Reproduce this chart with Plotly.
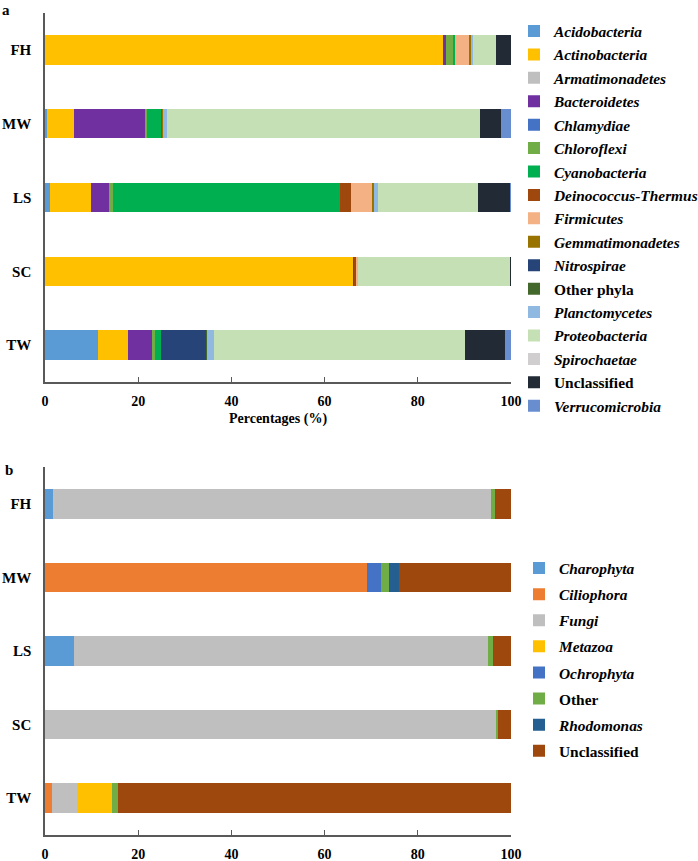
import plotly.graph_objects as go

sites = ["FH", "MW", "LS", "SC", "TW"]

# Panel a: bacterial phyla (%)
phyla = ["Acidobacteria", "Actinobacteria", "Armatimonadetes", "Bacteroidetes",
         "Chlamydiae", "Chloroflexi", "Cyanobacteria", "Deinococcus-Thermus",
         "Firmicutes", "Gemmatimonadetes", "Nitrospirae", "Other phyla",
         "Planctomycetes", "Proteobacteria", "Spirochaetae", "Unclassified",
         "Verrucomicrobia"]
acidobacteria = [0.1, 0.4, 1.1, 0.0, 11.3]
actinobacteria = [85.3, 5.8, 8.7, 66.0, 6.45]
armatimonadetes = [0.0, 0.0, 0.0, 0.0, 0.0]
bacteroidetes = [0.7, 15.4, 4.0, 0.45, 5.3]
chlamydiae = [0.0, 0.0, 0.0, 0.0, 0.0]
chloroflexi = [1.6, 0.2, 0.85, 0.0, 0.5]
cyanobacteria = [0.2, 3.1, 48.7, 0.0, 1.4]
deinococcus = [0.0, 0.3, 2.4, 0.3, 0.0]
firmicutes = [3.2, 0.0, 4.5, 0.4, 0.0]
gemmatimonadetes = [0.35, 0.2, 0.35, 0.0, 0.0]
nitrospirae = [0.0, 0.0, 0.0, 0.0, 9.6]
other_phyla = [0.0, 0.0, 0.0, 0.0, 0.2]
planctomycetes = [0.35, 0.7, 0.8, 0.0, 1.6]
proteobacteria = [5.0, 67.3, 21.5, 32.65, 53.8]
spirochaetae = [0.0, 0.0, 0.0, 0.0, 0.0]
unclassified_a = [3.15, 4.5, 7.0, 0.2, 8.5]
verrucomicrobia = [0.0, 2.1, 0.1, 0.0, 1.3]
values_a = [acidobacteria, actinobacteria, armatimonadetes, bacteroidetes,
            chlamydiae, chloroflexi, cyanobacteria, deinococcus, firmicutes,
            gemmatimonadetes, nitrospirae, other_phyla, planctomycetes,
            proteobacteria, spirochaetae, unclassified_a, verrucomicrobia]
italic_a = [True] * 11 + [False] + [True] * 3 + [False] + [True]
colors_a = ["#5B9BD5", "#FFC000", "#BFBFBF", "#7030A0", "#4472C4", "#70AD47",
            "#00B050", "#9E480E", "#F4B183", "#997300", "#264478", "#43682B",
            "#8FB9E1", "#C5E0B4", "#D0CECE", "#222A35", "#698ED0"]

# Panel b: eukaryotic groups (%)
groups = ["Charophyta", "Ciliophora", "Fungi", "Metazoa", "Ochrophyta",
          "Other", "Rhodomonas", "Unclassified"]
charophyta = [1.8, 0.0, 6.3, 0.0, 0.0]
ciliophora = [0.0, 69.2, 0.0, 0.0, 1.4]
fungi = [93.9, 0.0, 88.7, 96.8, 5.5]
metazoa = [0.0, 0.0, 0.0, 0.0, 7.4]
ochrophyta = [0.0, 2.9, 0.0, 0.0, 0.0]
other = [0.9, 1.8, 1.2, 0.4, 1.4]
rhodomonas = [0.0, 2.1, 0.0, 0.0, 0.0]
unclassified_b = [3.4, 24.0, 3.8, 2.8, 84.3]
values_b = [charophyta, ciliophora, fungi, metazoa, ochrophyta, other,
            rhodomonas, unclassified_b]
italic_b = [True, True, True, True, True, False, True, False]
colors_b = ["#5B9BD5", "#ED7D31", "#BFBFBF", "#FFC000", "#4472C4", "#70AD47",
            "#255E91", "#9E480E"]

xticks = [0, 20, 40, 60, 80, 100]

FONT = "Liberation Serif"
fig = go.Figure()

for name, vals, it, col in zip(phyla, values_a, italic_a, colors_a):
    fig.add_trace(go.Bar(
        y=sites, x=vals, orientation="h", name=(f"<i>{name}</i>" if it else name),
        marker=dict(color=col, line=dict(width=0)), xaxis="x", yaxis="y",
        legend="legend", legendgroup="a_" + name))

for name, vals, it, col in zip(groups, values_b, italic_b, colors_b):
    fig.add_trace(go.Bar(
        y=sites, x=vals, orientation="h", name=(f"<i>{name}</i>" if it else name),
        marker=dict(color=col, line=dict(width=0)), xaxis="x2", yaxis="y2",
        legend="legend2", legendgroup="b_" + name))

W, H = 698, 861
x0, x1 = 45 / W, 511 / W
axis_common = dict(showgrid=False, zeroline=False, showline=True,
                   linecolor="#595959", linewidth=1.5, automargin=False)
xcommon = dict(range=[0, 100], tickvals=xticks, ticks="inside", ticklen=5,
               tickcolor="#595959", tickwidth=1, ticklabelstandoff=5,
               tickfont=dict(family=FONT, size=14, color="black", weight="bold"),
               domain=[x0, x1], **axis_common)
ycommon = dict(autorange="reversed", ticks="", ticklabelstandoff=9,
               tickfont=dict(family=FONT, size=15, color="black", weight="bold"),
               **axis_common)

LEGSIZE = 15.4
legfont = dict(family=FONT, size=LEGSIZE, color="black", weight="bold")

fig.update_layout(
    width=W, height=H, autosize=False,
    margin=dict(l=0, r=0, t=0, b=0, autoexpand=False),
    paper_bgcolor="white", plot_bgcolor="white",
    barmode="stack", bargap=0.6, showlegend=True,
    xaxis=dict(anchor="y", title=dict(text="Percentages (%)", standoff=6,
               font=dict(family=FONT, size=14, color="black", weight="bold")),
               **xcommon),
    yaxis=dict(anchor="x", domain=[1 - 382 / H, 1 - 13 / H], **ycommon),
    xaxis2=dict(anchor="y2", **xcommon),
    yaxis2=dict(anchor="x2", domain=[1 - 835 / H, 1 - 467 / H], **ycommon),
    legend=dict(x=(554 - 40) / W, xanchor="left", y=1 - 14.5 / H, yanchor="top",
                traceorder="grouped", font=legfont, bgcolor="rgba(0,0,0,0)",
                tracegroupgap=0.4),
    legend2=dict(x=(559 - 40) / W, xanchor="left", y=1 - 551.5 / H, yanchor="top",
                 traceorder="grouped", font=legfont, bgcolor="rgba(0,0,0,0)",
                 tracegroupgap=3.1),
    annotations=[
        dict(text="a", x=0 / W, y=1.0, xref="paper", yref="paper",
             xanchor="left", yanchor="top", showarrow=False,
             font=dict(family=FONT, size=15, color="black", weight="bold")),
        dict(text="b", x=3 / W, y=1 - 460 / H, xref="paper", yref="paper",
             xanchor="left", yanchor="top", showarrow=False,
             font=dict(family=FONT, size=15, color="black", weight="bold")),
    ],
)

fig.write_html("out.html",
               config={"responsive": False, "displayModeBar": False},
               post_script="document.body.style.margin='0';document.body.style.padding='0';document.body.style.overflow='hidden';")
